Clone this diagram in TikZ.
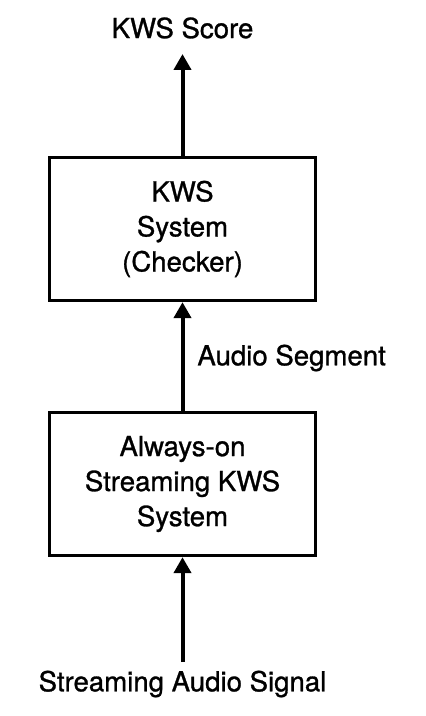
\documentclass[tikz,border=0pt]{standalone}
\usepackage{fontspec}
\setmainfont{TeX Gyre Heros}
\newfontface\medfont{TeX Gyre Heros}[FakeBold=1.0]
\usetikzlibrary{arrows.meta}
\begin{document}
\begin{tikzpicture}[x=0.5pt,y=-0.5pt,
  every node/.style={font=\medfont\fontsize{13.8}{17.5}\selectfont, inner sep=0pt},
  blk/.style={draw, line width=1.65pt, minimum width=133pt, minimum height=71.5pt, align=center},
  arr/.style={line width=2pt, -{Triangle[width=8.5pt,length=8pt]}}]
\useasboundingbox (0,0) rectangle (426,716);
\node (score) at (182.5,28) {KWS Score};
\node[blk] (checker) at (182.5,229) {KWS\\System\\(Checker)};
\node[blk] (aos) at (182.5,484) {Always-on\\Streaming KWS\\System};
\node (signal) at (182.5,684) {Streaming Audio Signal};
\coordinate (top) at (182.5,54);
\coordinate (bot) at (182.5,662);
\node[anchor=west] (seg) at (197,358) {Audio Segment};
\draw[arr] (checker.north) -- (top);
\draw[arr] (aos.north) -- (checker.south);
\draw[arr] (bot) -- (aos.south);
\end{tikzpicture}
\end{document}
